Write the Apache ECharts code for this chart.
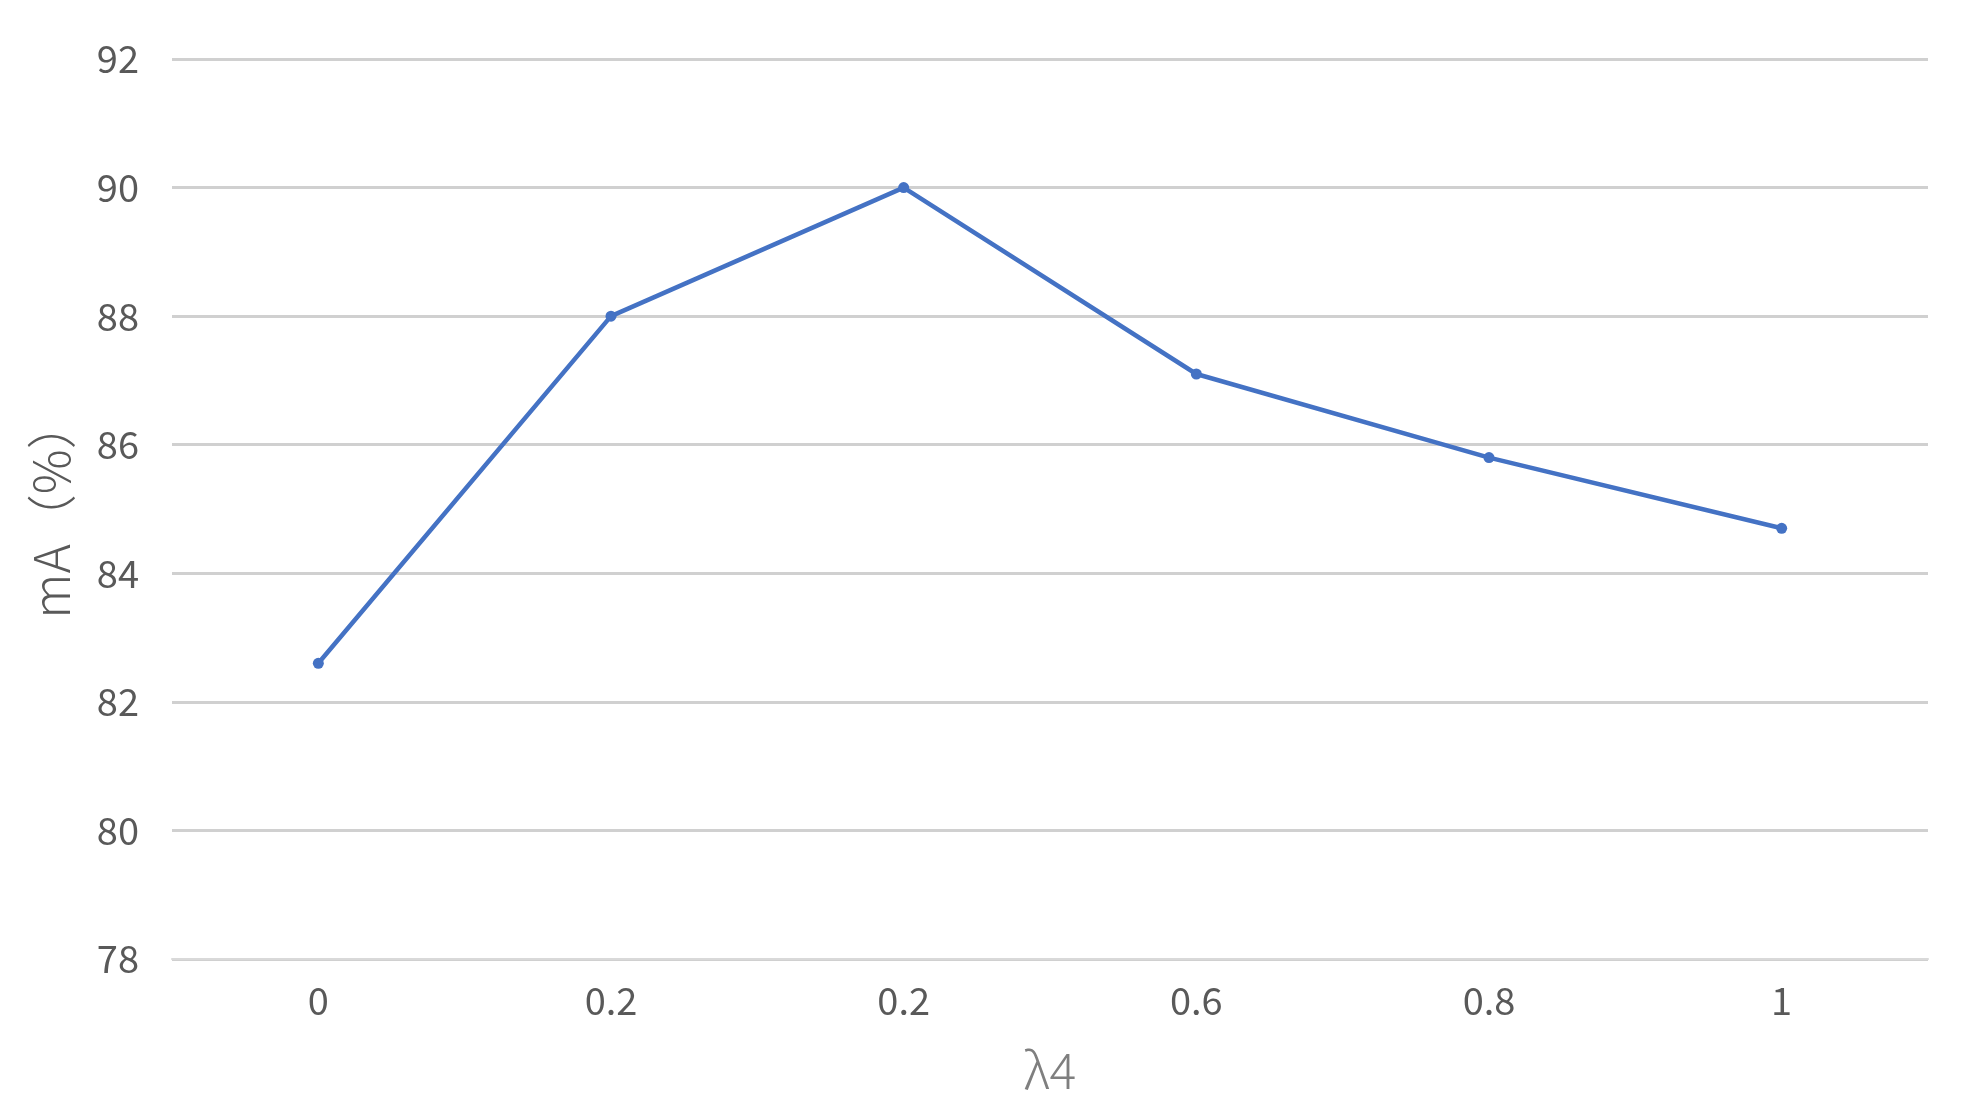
<!DOCTYPE html>
<html>
<head>
<meta charset="utf-8">
<script src="https://cdn.jsdelivr.net/npm/echarts@6/dist/echarts.min.js"></script>
<style>
html,body{margin:0;padding:0;background:#fff;}
#c{width:1973px;height:1110px;}
</style>
</head>
<body>
<div id="c"></div>
<script>
const categories = ['0', '0.2', '0.2', '0.6', '0.8', '1'];
const mAValues = [82.6, 88.0, 90.0, 87.1, 85.8, 84.7];
const yMin = 78, yMax = 92, yStep = 2;
const xTitle = 'λ4';
const yTitle = 'mA（%）';

const chart = echarts.init(document.getElementById('c'));
const FONT = '"Noto Sans CJK SC", "Noto Sans", sans-serif';
chart.setOption({
  backgroundColor: '#ffffff',
  animation: false,
  grid: {left: 172, right: 45, top: 59, bottom: 151},
  xAxis: {
    type: 'category',
    data: categories,
    boundaryGap: true,
    axisLine: {show: true, lineStyle: {color: '#d9d9d9', width: 2}},
    axisTick: {show: false},
    axisLabel: {color: '#595959', fontSize: 38, fontFamily: FONT, margin: 23},
    name: xTitle,
    nameLocation: 'middle',
    nameGap: 86,
    nameTextStyle: {color: '#7f7f7f', fontSize: 50, fontFamily: FONT, fontWeight: 300}
  },
  yAxis: {
    type: 'value',
    min: yMin, max: yMax, interval: yStep,
    axisLine: {show: false},
    axisTick: {show: false},
    splitLine: {show: true, lineStyle: {color: '#d0d0d0', width: 3}},
    axisLabel: {color: '#595959', fontSize: 38, fontFamily: FONT, margin: 33},
    name: yTitle,
    nameLocation: 'middle',
    nameGap: 96,
    nameTextStyle: {color: '#595959', fontSize: 50, fontFamily: FONT, fontWeight: 300}
  },
  series: [{
    type: 'line',
    data: mAValues,
    symbol: 'circle',
    symbolSize: 11,
    lineStyle: {color: '#4472C4', width: 4.5},
    itemStyle: {color: '#4472C4'}
  }]
});
</script>
</body>
</html>
